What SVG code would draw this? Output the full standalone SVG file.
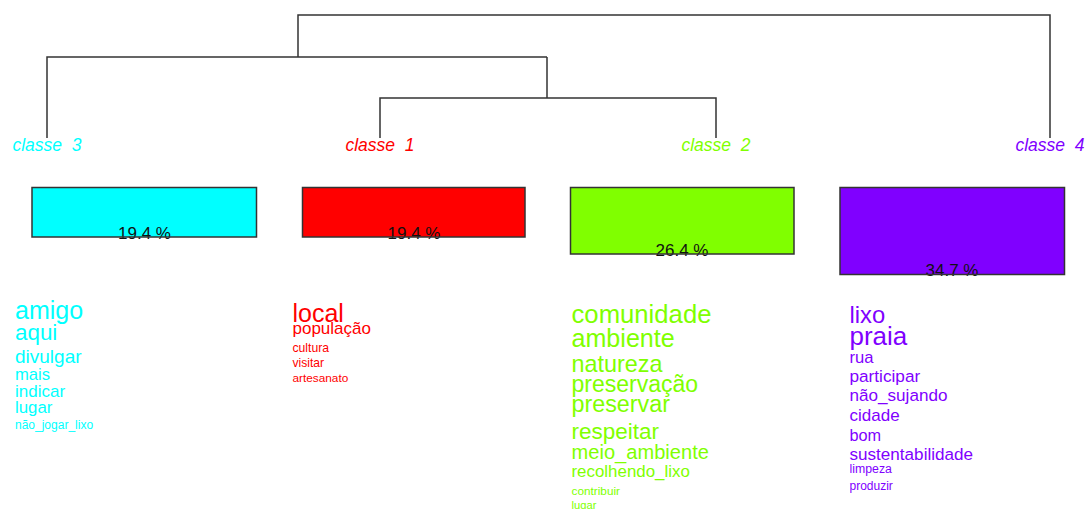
<svg xmlns="http://www.w3.org/2000/svg" width="1086" height="509" viewBox="0 0 1086 509">
<style>
text{font-family:"Liberation Sans",Arial,sans-serif}
.lbl{font-size:17.5px;font-style:italic;white-space:pre;text-anchor:middle}
.pct{font-size:17px;fill:#111;text-anchor:middle}
.fr{fill:none;stroke:#333;stroke-width:1.5}
.dend{fill:none;stroke:#333;stroke-width:1.5}
.c3{fill:#00FFFF}.c1{fill:#FF0000}.c2{fill:#80FF00}.c4{fill:#8000FF}
</style>
<rect width="1086" height="509" fill="#fff"/>
<g id="connectors" class="dend">
<path d="M298 57V15H1050V138"/>
<path d="M47 138V57H547"/>
<path d="M547 57V98"/>
<path d="M380 138V98H716V138"/>
</g>
<g id="classe3">
<text class="lbl c3" x="47" y="151">classe  3</text>
<rect class="c3" x="32" y="187.5" width="224.5" height="49.5"/>
<text class="pct" x="144.5" y="238.5">19.4 %</text>
<rect class="fr" x="32" y="187.5" width="224.5" height="49.5"/>
<g class="c3">
<text x="15" y="319" font-size="25">amigo</text>
<text x="15" y="340" font-size="22.4">aqui</text>
<text x="15" y="362.5" font-size="19">divulgar</text>
<text x="15" y="380" font-size="16.6">mais</text>
<text x="15" y="397" font-size="17">indicar</text>
<text x="15" y="413" font-size="16.8">lugar</text>
<text x="15" y="429" font-size="12">não_jogar_lixo</text>
</g>
</g>
<g id="classe1">
<text class="lbl c1" x="380" y="151">classe  1</text>
<rect class="c1" x="302.5" y="187.5" width="222.5" height="49.5"/>
<text class="pct" x="414" y="238.5">19.4 %</text>
<rect class="fr" x="302.5" y="187.5" width="222.5" height="49.5"/>
<g class="c1">
<text x="292.5" y="322" font-size="25">local</text>
<text x="292.5" y="334" font-size="17">população</text>
<text x="292.5" y="352" font-size="12.2">cultura</text>
<text x="292.5" y="367" font-size="12.1">visitar</text>
<text x="292.5" y="382" font-size="11.8">artesanato</text>
</g>
</g>
<g id="classe2">
<text class="lbl c2" x="716" y="151">classe  2</text>
<rect class="c2" x="570.5" y="187.5" width="223.5" height="66.5"/>
<text class="pct" x="682" y="255.5">26.4 %</text>
<rect class="fr" x="570.5" y="187.5" width="223.5" height="66.5"/>
<g class="c2">
<text x="571.5" y="323" font-size="25.7">comunidade</text>
<text x="571.5" y="347" font-size="25.1">ambiente</text>
<text x="571.5" y="372" font-size="23.4">natureza</text>
<text x="571.5" y="392" font-size="23">preservação</text>
<text x="571.5" y="412" font-size="23.3">preservar</text>
<text x="571.5" y="438.5" font-size="22.5">respeitar</text>
<text x="571.5" y="458.5" font-size="20.1">meio_ambiente</text>
<text x="571.5" y="476.5" font-size="16.9">recolhendo_lixo</text>
<text x="571.5" y="494.5" font-size="11.8">contribuir</text>
<text x="571.5" y="508.5" font-size="11.2">lugar</text>
</g>
</g>
<g id="classe4">
<text class="lbl c4" x="1050" y="151">classe  4</text>
<rect class="c4" x="840" y="187.5" width="224.5" height="87"/>
<text class="pct" x="952" y="276">34.7 %</text>
<rect class="fr" x="840" y="187.5" width="224.5" height="87"/>
<g class="c4">
<text x="849.5" y="323" font-size="23.8">lixo</text>
<text x="849.5" y="344.5" font-size="26">praia</text>
<text x="849.5" y="363" font-size="16.6">rua</text>
<text x="849.5" y="382" font-size="17.2">participar</text>
<text x="849.5" y="401" font-size="17.1">não_sujando</text>
<text x="849.5" y="421" font-size="17">cidade</text>
<text x="849.5" y="441" font-size="16.3">bom</text>
<text x="849.5" y="459.5" font-size="17.1">sustentabilidade</text>
<text x="849.5" y="473" font-size="12.3">limpeza</text>
<text x="849.5" y="489.5" font-size="12">produzir</text>
</g>
</g>
</svg>
